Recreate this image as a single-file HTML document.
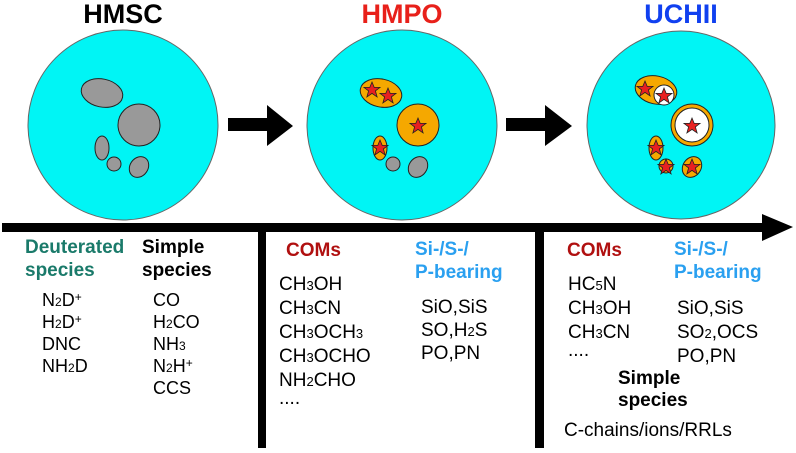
<!DOCTYPE html>
<html><head><style>
body{margin:0;width:796px;height:448px;background:#fff;overflow:hidden}
svg text{font-family:"Liberation Sans",Arial,sans-serif}
.b{font-weight:bold}
</style></head><body>
<svg width="796" height="448" viewBox="0 0 796 448" xmlns="http://www.w3.org/2000/svg">
<defs>
<path id="st" d="M0,-8 L2.2,-2.6 8,-2.6 3.4,0.9 5.1,6.9 0,3.4 -5.1,6.9 -3.4,0.9 -8,-2.6 -2.2,-2.6Z" fill="#e82020" stroke="#222" stroke-width="0.8"/>
</defs>
<g text-anchor="middle" class="b" font-size="27" font-weight="bold">
<text x="123" y="23" fill="#000">HMSC</text>
<text x="402" y="23" fill="#e8201a">HMPO</text>
<text x="681" y="23" fill="#1040f0">UCHII</text>
</g>
<g stroke="#666" stroke-width="1">
<circle cx="123" cy="125" r="95" fill="#00f5f5"/>
<circle cx="402" cy="125" r="95" fill="#00f5f5"/>
<circle cx="681" cy="125" r="94" fill="#00f5f5"/>
</g>
<g stroke="#222" stroke-width="1" fill="#999">
<ellipse cx="102" cy="93" rx="21" ry="14" transform="rotate(12 102 93)"/>
<circle cx="139" cy="125" r="21"/>
<ellipse cx="102" cy="148" rx="7" ry="12"/>
<ellipse cx="114" cy="164" rx="7" ry="7"/>
<ellipse cx="139" cy="167" rx="9" ry="11" transform="rotate(35 139 167)"/>
<ellipse cx="393" cy="164" rx="7" ry="7"/>
<ellipse cx="418" cy="167" rx="9" ry="11" transform="rotate(35 418 167)"/>
</g>
<g stroke="#222" stroke-width="1" fill="#f5a800">
<ellipse cx="381" cy="93" rx="21" ry="14" transform="rotate(12 381 93)"/>
<circle cx="418" cy="125" r="21"/>
<ellipse cx="380" cy="148" rx="7" ry="12"/>
<ellipse cx="656" cy="90" rx="21" ry="14" transform="rotate(12 656 90)"/>
<circle cx="692" cy="125" r="21"/>
<ellipse cx="656" cy="148" rx="7" ry="12"/>
<circle cx="666" cy="166" r="7"/>
<ellipse cx="692" cy="167" rx="9" ry="11" transform="rotate(35 692 167)"/>
</g>
<g stroke="#222" stroke-width="1" fill="#fff">
<circle cx="664" cy="95" r="10"/>
<circle cx="692" cy="125" r="17"/>
</g>
<use href="#st" x="372" y="90"/><use href="#st" x="388" y="96" transform="translate(0,0)"/>
<use href="#st" x="418" y="126"/><use href="#st" x="380" y="148"/>
<use href="#st" x="645" y="89"/><use href="#st" x="664" y="96"/>
<use href="#st" x="692" y="126"/><use href="#st" x="656" y="148"/>
<use href="#st" x="666" y="167"/><use href="#st" x="692" y="167"/>
<path d="M228,118 H267 V105 L293,126 L267,146 V131 H228Z" fill="#000"/>
<path d="M506,118 H545 V105 L572,126 L545,146 V131 H506Z" fill="#000"/>
<rect x="2" y="223" width="765" height="9" fill="#000"/>
<path d="M762,214 L793,227 L762,241Z" fill="#000"/>
<rect x="258" y="232" width="8" height="216" fill="#000"/>
<rect x="535" y="232" width="9" height="216" fill="#000"/>
<g font-size="19" font-weight="bold">
<text x="25" y="253" fill="#1a7a6a">Deuterated</text>
<text x="25" y="276" fill="#1a7a6a">species</text>
<text x="142" y="253" fill="#000">Simple</text>
<text x="142" y="276" fill="#000">species</text>
<text x="286" y="256" fill="#b01010">COMs</text>
<text x="415" y="255" fill="#2aa0f0">Si-/S-/</text>
<text x="415" y="278" fill="#2aa0f0">P-bearing</text>
<text x="567" y="256" fill="#b01010">COMs</text>
<text x="674" y="255" fill="#2aa0f0">Si-/S-/</text>
<text x="674" y="278" fill="#2aa0f0">P-bearing</text>
<text x="618" y="384" fill="#000">Simple</text>
<text x="618" y="406" fill="#000">species</text>
</g>
<g font-size="18" fill="#000">
<text x="42" y="306">N<tspan font-size="12">2</tspan>D<tspan font-size="12" dy="-5">+</tspan></text>
<text x="42" y="328">H<tspan font-size="12">2</tspan>D<tspan font-size="12" dy="-5">+</tspan></text>
<text x="42" y="350">DNC</text>
<text x="42" y="372">NH<tspan font-size="12">2</tspan>D</text>
<text x="153" y="306">CO</text>
<text x="153" y="328">H<tspan font-size="12">2</tspan>CO</text>
<text x="153" y="350">NH<tspan font-size="12">3</tspan></text>
<text x="153" y="372">N<tspan font-size="12">2</tspan>H<tspan font-size="12" dy="-5">+</tspan></text>
<text x="153" y="394">CCS</text>
</g>
<g font-size="19" fill="#000">
<text x="279" y="290">CH<tspan font-size="13">3</tspan>OH</text>
<text x="279" y="314">CH<tspan font-size="13">3</tspan>CN</text>
<text x="279" y="338">CH<tspan font-size="13">3</tspan>OCH<tspan font-size="13">3</tspan></text>
<text x="279" y="362">CH<tspan font-size="13">3</tspan>OCHO</text>
<text x="279" y="386">NH<tspan font-size="13">2</tspan>CHO</text>
<text x="279" y="404">....</text>
<text x="421" y="313">SiO,SiS</text>
<text x="421" y="336">SO,H<tspan font-size="13">2</tspan>S</text>
<text x="421" y="359">PO,PN</text>
<text x="568" y="290">HC<tspan font-size="13">5</tspan>N</text>
<text x="568" y="314">CH<tspan font-size="13">3</tspan>OH</text>
<text x="568" y="338">CH<tspan font-size="13">3</tspan>CN</text>
<text x="568" y="356">....</text>
<text x="677" y="314">SiO,SiS</text>
<text x="677" y="338">SO<tspan font-size="13">2</tspan>,OCS</text>
<text x="677" y="362">PO,PN</text>
<text x="564" y="436">C-chains/ions/RRLs</text>
</g>
</svg>
</body></html>
